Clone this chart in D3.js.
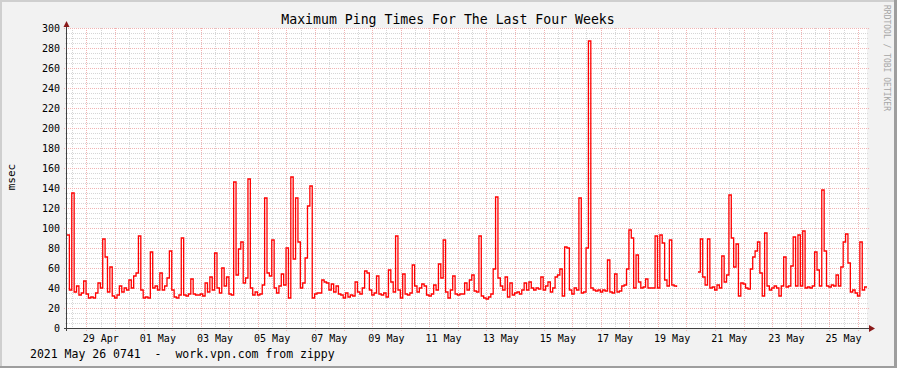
<!DOCTYPE html>
<html>
<head>
<meta charset="utf-8">
<script src="https://cdn.jsdelivr.net/npm/d3@7"></script>
<style>
  body { margin: 0; background: #f2f2f2; }
  svg { display: block; }
  text { font-family: "DejaVu Sans Mono", monospace; }
</style>
</head>
<body>
<svg id="chart"></svg>
<script>
const title = "Maximum Ping Times For The Last Four Weeks";
const yLabel = "msec";
const footer = "2021 May 26 0741  -  work.vpn.com from zippy";
const watermark = "RRDTOOL / TOBI OETIKER";

const startTime = new Date(Date.UTC(2021, 3, 28, 7, 41));
const endTime = new Date(Date.UTC(2021, 4, 26, 7, 41));
const stepHours = 2;

const yTicks = [0, 20, 40, 60, 80, 100, 120, 140, 160, 180, 200, 220, 240, 260, 280, 300];

// max ping per 2 hour step (null = no data)
const pingMax = [
  93, 38, 135, 36, 42, 33, 35, 47, 34, 30, 31, 30,
  35, 45, 40, 89, 71, 36, 61, 32, 30, 33, 42, 36,
  40, 38, 48, 40, 52, 55, 92, 38, 30, 31, 30, 76,
  40, 42, 38, 55, 38, 42, 50, 77, 38, 31, 30, 33,
  90, 33, 32, 34, 49, 34, 33, 33, 34, 32, 45, 36,
  51, 38, 75, 40, 35, 60, 42, 51, 34, 33, 146, 53,
  79, 86, 45, 50, 149, 40, 33, 36, 33, 34, 43, 130,
  55, 52, 88, 40, 35, 42, 54, 43, 80, 30, 151, 69,
  130, 86, 40, 45, 70, 122, 142, 30, 34, 35, 35, 48,
  46, 45, 38, 44, 36, 42, 34, 33, 30, 35, 31, 33,
  32, 46, 36, 34, 40, 57, 55, 38, 33, 35, 52, 34,
  33, 35, 31, 58, 46, 36, 92, 38, 30, 54, 34, 33,
  35, 63, 42, 36, 40, 44, 42, 33, 32, 34, 43, 38,
  64, 50, 88, 36, 30, 38, 52, 34, 33, 34, 34, 45,
  38, 48, 53, 37, 36, 92, 32, 30, 29, 31, 34, 59,
  131, 50, 42, 38, 51, 31, 45, 33, 35, 36, 34, 38,
  45, 38, 46, 40, 38, 40, 39, 51, 38, 42, 46, 36,
  40, 51, 53, 59, 32, 81, 80, 38, 34, 40, 38, 130,
  35, 36, 80, 287, 40, 38, 37, 38, 36, 38, 37, 68,
  36, 35, 54, 36, 37, 42, 43, 59, 98, 90, 40, 73,
  46, 40, 41, 49, 40, 40, 40, 92, 40, 93, 85, 48,
  42, 88, 43, 42, 41, null, null, null, null, null, null, null,
  null, 56, 89, 51, 43, 89, 40, 41, 38, 43, 40, 72,
  46, 53, 133, 90, 61, 84, 32, 45, 44, 40, 39, 59,
  71, 77, 86, 55, 32, 95, 42, 38, 40, 42, 40, 32,
  42, 71, 41, 42, 62, 91, 42, 93, 42, 97, 40, 41,
  40, 42, 76, 58, 42, 138, 77, 42, 41, 43, 42, 53,
  42, 61, 86, 94, 65, 36, 38, 35, 32, 86, 38, 41
];

const width = 897, height = 368;
const plotLeft = 67, plotRight = 867, plotTop = 28, plotBottom = 328;

let svg = d3.select("#chart")
    .attr("width", width)
    .attr("height", height);

// background + shading
svg.append("rect").attr("width", width).attr("height", height).attr("fill", "#f2f2f2");
svg.append("rect").attr("x", 0).attr("y", 0).attr("width", width).attr("height", 2).attr("fill", "#cfcfcf");
svg.append("rect").attr("x", 0).attr("y", 0).attr("width", 2).attr("height", height).attr("fill", "#cfcfcf");
svg.append("rect").attr("x", 0).attr("y", height - 2).attr("width", width).attr("height", 2).attr("fill", "#9e9e9e");
svg.append("rect").attr("x", width - 3).attr("y", 0).attr("width", 3).attr("height", height).attr("fill", "#9e9e9e");

svg.append("rect")
    .attr("x", plotLeft).attr("y", plotTop)
    .attr("width", plotRight - plotLeft).attr("height", plotBottom - plotTop)
    .attr("fill", "#ffffff");

let xScale = d3.scaleUtc()
    .domain([startTime, endTime])
    .range([plotLeft, plotRight]);

let yScale = d3.scaleLinear()
    .domain([0, 300])
    .range([plotBottom, plotTop]);

// grid
let grid = svg.append("g").attr("shape-rendering", "crispEdges");

let minorY = d3.range(0, 301, 5).filter(v => v % 20 !== 0);
grid.selectAll(".hminor")
    .data(minorY)
    .enter()
    .append("line")
    .attr("x1", plotLeft - 2).attr("x2", plotRight + 2)
    .attr("y1", d => Math.round(yScale(d)) + 0.5)
    .attr("y2", d => Math.round(yScale(d)) + 0.5)
    .attr("stroke", "#d6d6d6")
    .attr("stroke-dasharray", "1,1");

let halfDays = d3.utcHour.every(12).range(startTime, endTime).filter(d => d.getUTCHours() !== 0);
grid.selectAll(".vminor")
    .data(halfDays)
    .enter()
    .append("line")
    .attr("x1", d => Math.round(xScale(d)) + 0.5)
    .attr("x2", d => Math.round(xScale(d)) + 0.5)
    .attr("y1", plotTop).attr("y2", plotBottom + 2)
    .attr("stroke", "#d6d6d6")
    .attr("stroke-dasharray", "1,1");

grid.selectAll(".hmajor")
    .data(yTicks)
    .enter()
    .append("line")
    .attr("x1", plotLeft - 3).attr("x2", plotRight + 2)
    .attr("y1", d => Math.round(yScale(d)) + 0.5)
    .attr("y2", d => Math.round(yScale(d)) + 0.5)
    .attr("stroke", "#f1b3b3")
    .attr("stroke-dasharray", "1,1");

let days = d3.utcDay.range(startTime, endTime);
grid.selectAll(".vmajor")
    .data(days)
    .enter()
    .append("line")
    .attr("x1", d => Math.round(xScale(d)) + 0.5)
    .attr("x2", d => Math.round(xScale(d)) + 0.5)
    .attr("y1", plotTop).attr("y2", plotBottom + 3)
    .attr("stroke", "#f1b3b3")
    .attr("stroke-dasharray", "1,1");

// data line
let points = pingMax.map((v, i) => ({ t: d3.utcHour.offset(startTime, i * stepHours), v: v }));
points.push({ t: endTime, v: pingMax[pingMax.length - 1] });

let line = d3.line()
    .defined(d => d.v !== null)
    .x(d => xScale(d.t))
    .y(d => yScale(d.v))
    .curve(d3.curveStepAfter);

svg.append("path")
    .datum(points)
    .attr("d", line)
    .attr("fill", "none")
    .attr("stroke", "#ff0000")
    .attr("stroke-width", 1.3);

// axes
svg.append("line")
    .attr("x1", plotLeft - 3).attr("x2", plotRight + 3)
    .attr("y1", plotBottom + 0.5).attr("y2", plotBottom + 0.5)
    .attr("stroke", "#404040");
svg.append("line")
    .attr("x1", plotLeft - 0.5).attr("x2", plotLeft - 0.5)
    .attr("y1", plotBottom + 3).attr("y2", plotTop - 3)
    .attr("stroke", "#404040");
svg.append("path")
    .attr("d", `M${plotRight + 2},${plotBottom - 3} L${plotRight + 8},${plotBottom + 0.5} L${plotRight + 2},${plotBottom + 4} Z`)
    .attr("fill", "#8b1a1a");
svg.append("path")
    .attr("d", `M${plotLeft - 3.5},${plotTop - 1} L${plotLeft - 0.5},${plotTop - 7} L${plotLeft + 2.5},${plotTop - 1} Z`)
    .attr("fill", "#8b1a1a");

// y labels
svg.selectAll(".ylab")
    .data(yTicks)
    .enter()
    .append("text")
    .text(d => d)
    .attr("x", 60)
    .attr("y", d => yScale(d))
    .attr("dy", "0.36em")
    .attr("text-anchor", "end")
    .style("font-size", "10px")
    .attr("fill", "#000");

// x labels: every 2 days, centred at noon
let labelDays = days.filter((d, i) => i % 2 === 0);
svg.selectAll(".xlab")
    .data(labelDays)
    .enter()
    .append("text")
    .text(d => d3.utcFormat("%d %b")(d))
    .attr("x", d => xScale(d3.utcHour.offset(d, 12)))
    .attr("y", 341.5)
    .attr("text-anchor", "middle")
    .style("font-size", "10px")
    .attr("fill", "#000");

// title and other texts
svg.append("text")
    .text(title)
    .attr("x", 448).attr("y", 24)
    .attr("text-anchor", "middle")
    .style("font-size", "13.2px")
    .attr("fill", "#000");

svg.append("text")
    .text(yLabel)
    .attr("transform", "translate(15,177) rotate(-90)")
    .attr("text-anchor", "middle")
    .style("font-size", "11px")
    .attr("fill", "#000");

svg.append("text")
    .text(footer)
    .attr("x", 30).attr("y", 357.5)
    .style("white-space", "pre")
    .style("font-size", "11.5px")
    .attr("fill", "#000");

svg.append("text")
    .text(watermark)
    .attr("transform", "translate(884,5) rotate(90)")
    .style("font-size", "8px")
    .attr("fill", "#a6a6a6");
</script>
</body>
</html>
